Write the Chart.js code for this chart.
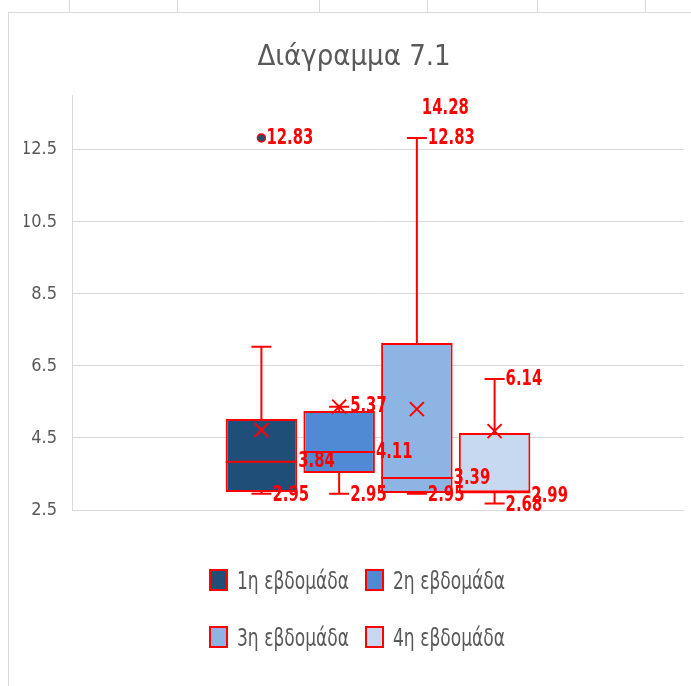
<!DOCTYPE html>
<html>
<head>
<meta charset="utf-8">
<script src="https://cdn.jsdelivr.net/npm/chart.js@4"></script>
<style>
  body { margin: 0; background: #fff; }
  #wrap { position: relative; width: 691px; height: 686px; overflow: hidden; }
  #frame { position: absolute; left: 8px; top: 12px; width: 700px; height: 700px; border: 1px solid #d9d9d9; }
  .col { position: absolute; top: 0; width: 1px; height: 12px; background: #d9d9d9; }
  canvas { position: absolute; left: 0; top: 0; }
  .legend-item { position: absolute; display: flex; align-items: center; height: 22px; font-family: "DejaVu Sans Condensed", sans-serif; font-size: 19px; color: #595959; }
  .legend-item span.box { display: inline-block; width: 15px; height: 18px; border: 2px solid #ff0000; margin-right: 9px; }
  .legend-item span.txt { display: inline-block; transform: scaleY(1.3); }
</style>
</head>
<body>
<div id="wrap">
  <div id="frame"></div>
  <canvas id="chart-box" width="691" height="686"></canvas>
  <div id="legend"></div>
</div>
<script>
const weeks = ["1η εβδομάδα", "2η εβδομάδα", "3η εβδομάδα", "4η εβδομάδα"];
const colors = ["#1F4E79", "#5089D4", "#8DB4E3", "#C6D9F1"];
const mins = [2.95, 2.95, 2.95, 2.68];
const q1s = [3.0, 3.53, 2.97, 2.99];
const medians = [3.84, 4.11, 3.39, 2.99];
const q3s = [5.03, 5.25, 7.14, 4.64];
const maxs = [7.03, 5.37, 12.83, 6.14];
const means = [4.72, 5.37, 5.30, 4.69];
const outliers = [[12.83], [], [14.28], []];
const shownLabels = [
    ["outlier", "median", "min"],
    ["max", "median", "min"],
    ["outlier", "max", "median", "min"],
    ["max", "min", "median"]
];
const tickValues = [2.5, 4.5, 6.5, 8.5, 10.5, 12.5];
const yMin = 2.5, yMax = 14;

const fontFam = "'DejaVu Sans Condensed', sans-serif";

const sheetCols = [69, 177, 319, 427, 537, 645];
sheetCols.forEach(function(x) {
    const d = document.createElement("div");
    d.className = "col";
    d.style.left = x + "px";
    document.getElementById("wrap").appendChild(d);
});

// legend in html, two per row
const legendPos = [[209, 569], [365, 569], [209, 626], [365, 626]];
weeks.forEach(function(w, i) {
    const item = document.createElement("div");
    item.className = "legend-item";
    item.style.left = legendPos[i][0] + "px";
    item.style.top = legendPos[i][1] + "px";
    item.innerHTML = '<span class="box" style="background:' + colors[i] + '"></span><span class="txt">' + w + '</span>';
    document.getElementById("legend").appendChild(item);
});

function tallText(ctx, text, x, y) {
    ctx.save();
    ctx.translate(x, y);
    ctx.scale(1, 1.32);
    ctx.fillText(text, 0, 0);
    ctx.restore();
}

const boxExtras = {
    id: "boxExtras",
    afterDatasetsDraw(chart) {
        const ctx = chart.ctx;
        const y = chart.scales.y;
        const area = chart.chartArea;
        ctx.save();
        chart.data.datasets.forEach(function(ds, i) {
            const bar = chart.getDatasetMeta(i).data[0];
            const cx = bar.x;
            const half = bar.width / 2;
            const cap = 10;
            ctx.strokeStyle = "#ff0000";
            ctx.lineWidth = 2;
            // whiskers
            ctx.beginPath();
            ctx.moveTo(cx, y.getPixelForValue(q3s[i]));
            ctx.lineTo(cx, y.getPixelForValue(maxs[i]));
            ctx.moveTo(cx - cap, y.getPixelForValue(maxs[i]));
            ctx.lineTo(cx + cap, y.getPixelForValue(maxs[i]));
            ctx.moveTo(cx, y.getPixelForValue(q1s[i]));
            ctx.lineTo(cx, y.getPixelForValue(mins[i]));
            ctx.moveTo(cx - cap, y.getPixelForValue(mins[i]));
            ctx.lineTo(cx + cap, y.getPixelForValue(mins[i]));
            // median
            ctx.moveTo(cx - half, y.getPixelForValue(medians[i]));
            ctx.lineTo(cx + half, y.getPixelForValue(medians[i]));
            // mean X
            const my = y.getPixelForValue(means[i]);
            ctx.moveTo(cx - 7, my - 7);
            ctx.lineTo(cx + 7, my + 7);
            ctx.moveTo(cx + 7, my - 7);
            ctx.lineTo(cx - 7, my + 7);
            ctx.stroke();
            // outliers
            outliers[i].forEach(function(v) {
                if (v > yMax) return;
                ctx.beginPath();
                ctx.arc(cx, y.getPixelForValue(v), 4, 0, Math.PI * 2);
                ctx.fillStyle = colors[i];
                ctx.fill();
                ctx.lineWidth = 1.5;
                ctx.stroke();
            });
            // labels
            ctx.fillStyle = "#ff0000";
            ctx.font = "bold 16.5px " + fontFam;
            ctx.textAlign = "left";
            ctx.textBaseline = "middle";
            shownLabels[i].forEach(function(kind) {
                if (kind === "outlier") {
                    outliers[i].forEach(function(v) {
                        const py = Math.max(area.top + 13, y.getPixelForValue(v));
                        tallText(ctx, v.toFixed(2), cx + 5, py);
                    });
                } else if (kind === "median") {
                    const off = medians[i] === q1s[i] ? 4 : 0;
                    tallText(ctx, medians[i].toFixed(2), cx + half + 1, y.getPixelForValue(medians[i]) + off);
                } else if (kind === "max") {
                    tallText(ctx, maxs[i].toFixed(2), cx + 11, y.getPixelForValue(maxs[i]));
                } else if (kind === "min") {
                    tallText(ctx, mins[i].toFixed(2), cx + 11, y.getPixelForValue(mins[i]) + 2);
                }
            });
        });
        ctx.restore();
    }
};

new Chart(document.getElementById("chart-box"), {
    type: "bar",
    data: {
        labels: [""],
        datasets: weeks.map(function(w, i) {
            return {
                label: w,
                data: [[q1s[i], q3s[i]]],
                backgroundColor: colors[i],
                borderColor: "#ff0000",
                borderWidth: 2,
                borderSkipped: false,
                categoryPercentage: 0.508,
                barPercentage: 0.92
            };
        })
    },
    options: {
        responsive: false,
        animation: false,
        layout: { padding: { top: 12, left: 24, right: 7, bottom: 176 } },
        plugins: {
            legend: { display: false },
            tooltip: { enabled: false },
            title: {
                display: true,
                text: "Διάγραμμα 7.1",
                color: "#595959",
                font: { family: fontFam, size: 29, weight: "normal" },
                padding: { top: 28, bottom: 21 }
            }
        },
        scales: {
            x: { display: false },
            y: {
                min: yMin,
                max: yMax,
                afterBuildTicks: function(scale) {
                    scale.ticks = tickValues.map(function(v) { return { value: v }; });
                },
                afterFit: function(scale) { scale.width = 48; },
                grid: { color: "#d9d9d9", drawTicks: false },
                border: { display: true, color: "#d9d9d9" },
                ticks: {
                    padding: 15,
                    color: "#595959",
                    font: { family: fontFam, size: 18 },
                    callback: function(v) { return Number(v).toFixed(1); }
                }
            }
        }
    },
    plugins: [boxExtras]
});
</script>
</body>
</html>
